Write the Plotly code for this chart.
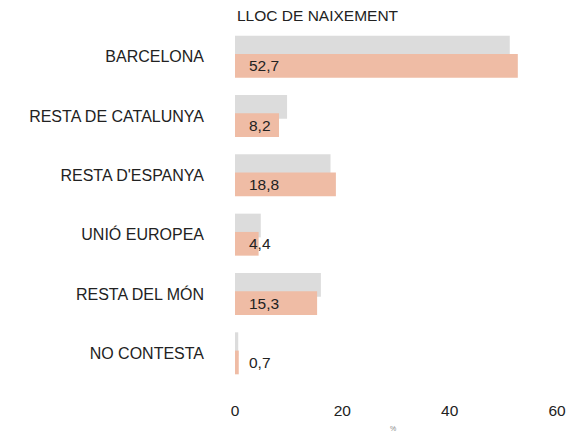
import plotly.graph_objects as go

# Place of birth (%), two survey series
categories = ["BARCELONA", "RESTA DE CATALUNYA", "RESTA D'ESPANYA",
              "UNIÓ EUROPEA", "RESTA DEL MÓN", "NO CONTESTA"]
previous = [51.2, 9.7, 17.8, 4.8, 16.0, 0.6]
current = [52.7, 8.2, 18.8, 4.4, 15.3, 0.7]
x_ticks = [0, 20, 40, 60]

pos = list(range(len(categories)))
bar_w = 0.40
grey_off = -0.354
orange_off = -0.046

font_family = "Liberation Sans, Arial, sans-serif"

fig = go.Figure()
fig.add_trace(go.Bar(
    y=pos, x=previous, orientation="h",
    width=bar_w, offset=grey_off,
    marker=dict(color="#dcdcdc", line=dict(width=0)),
    hoverinfo="skip", showlegend=False,
))
fig.add_trace(go.Bar(
    y=pos, x=current, orientation="h",
    width=bar_w, offset=orange_off,
    marker=dict(color="#efbca5", line=dict(width=0)),
    hoverinfo="skip", showlegend=False,
))

# value labels on the front bars
for p, v in zip(pos, current):
    fig.add_annotation(
        x=2.2, y=p + orange_off + bar_w / 2,
        text=f"{v:.1f}".replace(".", ","),
        xanchor="left", yanchor="middle", showarrow=False,
        font=dict(family=font_family, size=15.5, color="#222222"),
    )

fig.add_annotation(
    xref="paper", yref="paper", x=0, y=1, yshift=1,
    text="LLOC DE NAIXEMENT", xanchor="left", yanchor="bottom",
    showarrow=False,
    font=dict(family=font_family, size=15.5, color="#222222"),
)
fig.add_annotation(
    xref="paper", yref="paper", x=0.49, y=0, yshift=-24,
    text="%", xanchor="center", yanchor="top", showarrow=False,
    font=dict(family=font_family, size=7, color="#888888"),
)

fig.update_layout(
    width=567, height=434,
    margin=dict(l=235, r=10, t=27, b=35, autoexpand=False),
    barmode="overlay",
    plot_bgcolor="white", paper_bgcolor="white",
    font=dict(family=font_family, size=15.5, color="#222222"),
    xaxis=dict(range=[0, 60], tickvals=x_ticks, showgrid=False,
               zeroline=False, showline=False, ticks="", automargin=False),
    yaxis=dict(range=[5.77, -0.5], tickvals=pos, ticktext=categories,
               showgrid=False, zeroline=False, showline=False, ticks="",
               ticklabelstandoff=30, automargin=False,
               tickfont=dict(size=16)),
)

fig.write_html("out.html")
